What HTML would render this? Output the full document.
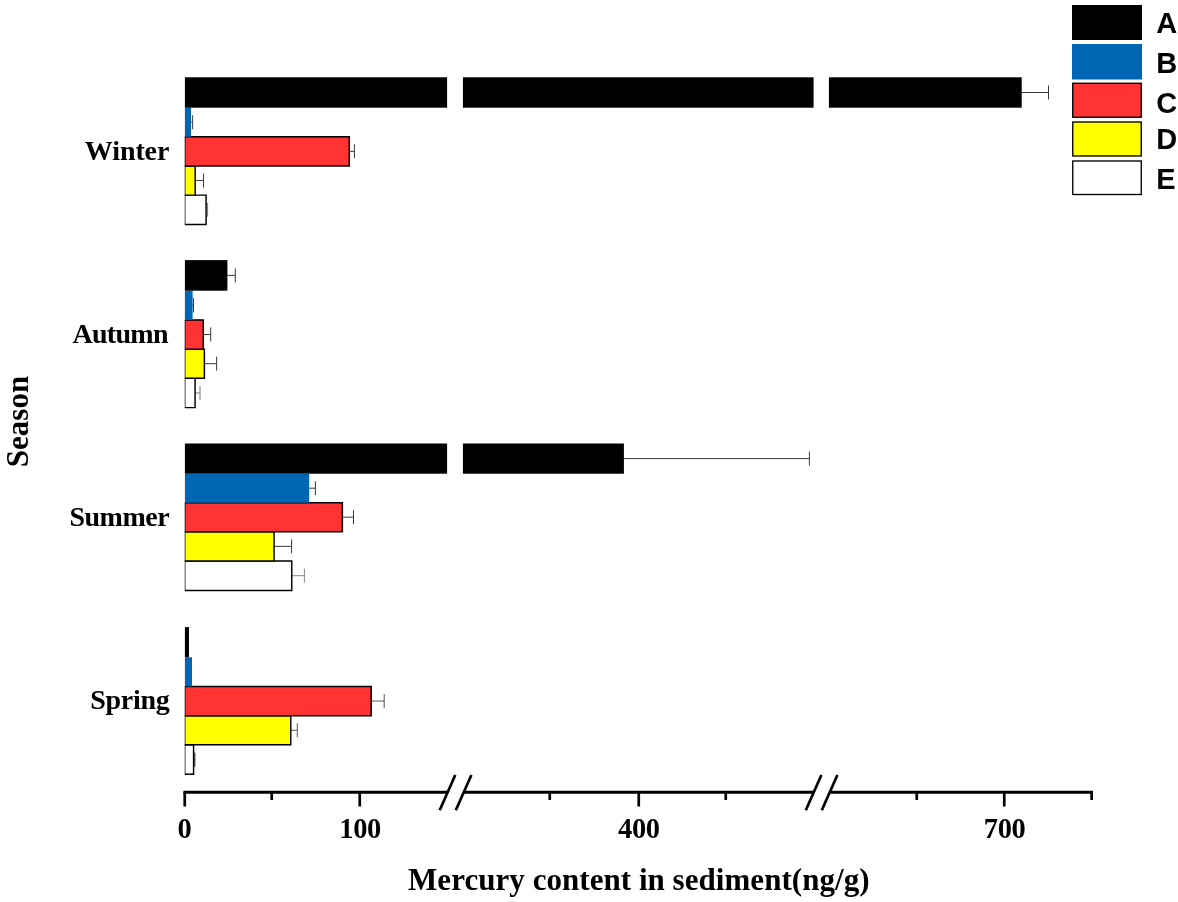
<!DOCTYPE html>
<html><head><meta charset="utf-8"><title>Mercury content in sediment</title>
<style>
html,body{margin:0;padding:0;background:#fff;}
svg{display:block;}
.serif{font-family:"Liberation Serif","Times New Roman",serif;font-weight:bold;fill:#000;}
.sans{font-family:"Liberation Sans",Arial,sans-serif;font-weight:bold;fill:#000;}
.bk{fill:#000;}
.bl{fill:#0066b3;}
.ol{fill:none;stroke:#000;stroke-width:1.45;}
.ll{fill:none;stroke:#000;stroke-width:0.7;}
.rd{fill:#ff3333;stroke:#000;stroke-width:1.35;}
.yl{fill:#ffff00;stroke:#000;stroke-width:1.35;}
.wh{fill:#fff;stroke:#000;stroke-width:1.35;}
.eb{stroke:#3a3a3a;stroke-width:1;fill:none;}
.ax{stroke:#000;stroke-width:2.7;fill:none;}
</style></head>
<body>
<svg width="1178" height="902" viewBox="0 0 1178 902">
<rect width="1178" height="902" fill="#fff"/>

<!-- Winter -->
<g>
<path class="eb" d="M205.8 209.75H207.6M207.6 202.75V216.75" style="stroke:#777"/>
<rect x="184.9" y="195.1" width="21.18" height="29.3" fill="#ffffff"/>
<path class="ol" d="M184.9 195.1H206.08V224.4H184.9"/>
<path class="ll" d="M185.15 195.1V224.4"/>
<path class="eb" d="M194.9 180.55H203.5M203.5 173.55V187.55"/>
<rect x="184.9" y="166" width="10.28" height="29.1" fill="#ffff00"/>
<path class="ol" d="M184.9 166H195.18V195.1H184.9"/>
<path class="ll" d="M185.15 166V195.1"/>
<path class="eb" d="M349 151.35H354.4M354.4 144.35V158.35"/>
<rect x="184.9" y="136.7" width="164.37" height="29.3" fill="#ff3333"/>
<path class="ol" d="M184.9 136.7H349.27V166H184.9"/>
<path class="ll" d="M185.15 136.7V166"/>
<path class="eb" d="M190 122.2H192.6M192.6 115.2V129.2"/>
<rect class="bl" x="184.9" y="107.7" width="6.1" height="29"/>
<path class="eb" d="M1020.7 92.5H1048.5M1048.5 85.5V99.5"/>
<rect class="bk" x="184.9" y="77.3" width="262.2" height="30.4"/>
<rect class="bk" x="462.9" y="77.3" width="350.7" height="30.4"/>
<rect class="bk" x="828.9" y="77.3" width="192.8" height="30.4"/>
</g>

<!-- Autumn -->
<g>
<path class="eb" d="M194.8 392.95H200M200 385.95V399.95" style="stroke:#777"/>
<rect x="184.9" y="378.3" width="10.18" height="29.3" fill="#ffffff"/>
<path class="ol" d="M184.9 378.3H195.08V407.6H184.9"/>
<path class="ll" d="M185.15 378.3V407.6"/>
<path class="eb" d="M204.1 363.7H216.6M216.6 356.7V370.7"/>
<rect x="184.9" y="349.1" width="19.47" height="29.2" fill="#ffff00"/>
<path class="ol" d="M184.9 349.1H204.38V378.3H184.9"/>
<path class="ll" d="M185.15 349.1V378.3"/>
<path class="eb" d="M203 334.5H210.7M210.7 327.5V341.5"/>
<rect x="184.9" y="319.9" width="18.38" height="29.2" fill="#ff3333"/>
<path class="ol" d="M184.9 319.9H203.28V349.1H184.9"/>
<path class="ll" d="M185.15 319.9V349.1"/>
<path class="eb" d="M191.6 305.3H193.5M193.5 298.3V312.3"/>
<rect class="bl" x="184.9" y="290.7" width="7.7" height="29.2"/>
<path class="eb" d="M226.4 275.4H235.3M235.3 268.4V282.4"/>
<rect class="bk" x="184.9" y="260.1" width="42.5" height="30.6"/>
</g>

<!-- Summer -->
<g>
<path class="eb" d="M291.5 575.7H304.4M304.4 568.7V582.7" style="stroke:#888"/>
<rect x="184.9" y="561" width="106.87" height="29.4" fill="#ffffff"/>
<path class="ol" d="M184.9 561H291.77V590.4H184.9"/>
<path class="ll" d="M185.15 561V590.4"/>
<path class="eb" d="M273.8 546.35H291.6M291.6 539.35V553.35"/>
<rect x="184.9" y="531.7" width="89.17" height="29.3" fill="#ffff00"/>
<path class="ol" d="M184.9 531.7H274.07V561H184.9"/>
<path class="ll" d="M185.15 531.7V561"/>
<path class="eb" d="M342.1 517.2H353.5M353.5 510.2V524.2"/>
<rect x="184.9" y="502.7" width="157.47" height="29" fill="#ff3333"/>
<path class="ol" d="M184.9 502.7H342.38V531.7H184.9"/>
<path class="ll" d="M185.15 502.7V531.7"/>
<path class="eb" d="M308.2 488.2H315.4M315.4 481.2V495.2"/>
<rect class="bl" x="184.9" y="473.7" width="124.3" height="29"/>
<path class="eb" d="M622.9 458.6H809.4M809.4 451.6V465.6"/>
<rect class="bk" x="184.9" y="443.5" width="262.2" height="30.2"/>
<rect class="bk" x="462.9" y="443.5" width="161" height="30.2"/>
</g>

<!-- Spring -->
<g>
<path class="eb" d="M193.3 759.55H194.8M194.8 752.55V766.55" style="stroke:#111"/>
<rect x="184.9" y="744.8" width="8.68" height="29.5" fill="#ffffff"/>
<path class="ol" d="M184.9 744.8H193.58V774.3H184.9"/>
<path class="ll" d="M185.15 744.8V774.3"/>
<path class="eb" d="M290.5 730.25H297.3M297.3 723.25V737.25" style="stroke:#555"/>
<rect x="184.9" y="715.7" width="105.87" height="29.1" fill="#ffff00"/>
<path class="ol" d="M184.9 715.7H290.77V744.8H184.9"/>
<path class="ll" d="M185.15 715.7V744.8"/>
<path class="eb" d="M370.9 701.05H384.2M384.2 694.05V708.05" style="stroke:#555"/>
<rect x="184.9" y="686.4" width="186.27" height="29.3" fill="#ff3333"/>
<path class="ol" d="M184.9 686.4H371.17V715.7H184.9"/>
<path class="ll" d="M185.15 686.4V715.7"/>
<rect class="bl" x="184.9" y="657.3" width="7.1" height="29.1"/>
<rect class="bk" x="184.9" y="627.1" width="4.1" height="30.2"/>
</g>

<!-- axis -->
<g class="ax">
<path stroke-width="3" d="M183.400 792.200H447M463.500 792.200H814M830.500 792.200H1093"/>
<path d="M184.750 792.200V806.400M359.750 792.200V806.400M638.750 792.200V806.400M1004.250 792.200V806.400"/>
<path d="M271.750 792.200V800M549.750 792.200V800M725.750 792.200V800M916.750 792.200V800M1091.650 792.200V800"/>
<path d="M439.700 810.300L455.300 775M455.800 810.300L471.400 775M805.800 810.300L821.400 775M821.800 810.300L837.400 775"/>
</g>

<!-- tick labels -->
<g class="serif" font-size="28.5" text-anchor="middle">
<text x="184.700" y="838.200">0</text>
<text x="360.300" y="838.200" textLength="42" lengthAdjust="spacing">100</text>
<text x="639" y="838.200" textLength="42" lengthAdjust="spacing">400</text>
<text x="1004.800" y="838.200" textLength="42" lengthAdjust="spacing">700</text>
</g>

<!-- category labels -->
<g class="serif" font-size="28" text-anchor="end">
<text x="169.400" y="159.700" textLength="84.600" lengthAdjust="spacing">Winter</text>
<text x="168.500" y="342.500" textLength="96.100" lengthAdjust="spacing">Autumn</text>
<text x="169.600" y="525.700" textLength="100.200" lengthAdjust="spacing">Summer</text>
<text x="169.700" y="708.700" textLength="79.400" lengthAdjust="spacing">Spring</text>
</g>

<text class="serif" font-size="31" text-anchor="middle" x="638.800" y="889.700" textLength="461.500" lengthAdjust="spacing">Mercury content in sediment(ng/g)</text>
<text class="serif" font-size="31" text-anchor="middle" transform="translate(28.300 421.500) rotate(-90)">Season</text>

<!-- legend -->
<g>
<rect x="1072" y="5" width="70" height="35" fill="#000"/>
<rect x="1072" y="44" width="70" height="35.500" fill="#0066b3"/>
<rect class="rd" x="1072.750" y="83.250" width="68.500" height="34"/>
<rect class="yl" x="1072.750" y="122" width="68.500" height="34"/>
<rect class="wh" x="1072.750" y="161" width="68.500" height="33.500"/>
</g>
<g class="sans" font-size="29">
<text x="1156.200" y="33">A</text>
<text x="1156.200" y="72.800">B</text>
<text x="1156.200" y="112.500">C</text>
<text x="1156.200" y="149">D</text>
<text x="1156.200" y="188.500">E</text>
</g>
</svg>
</body></html>
